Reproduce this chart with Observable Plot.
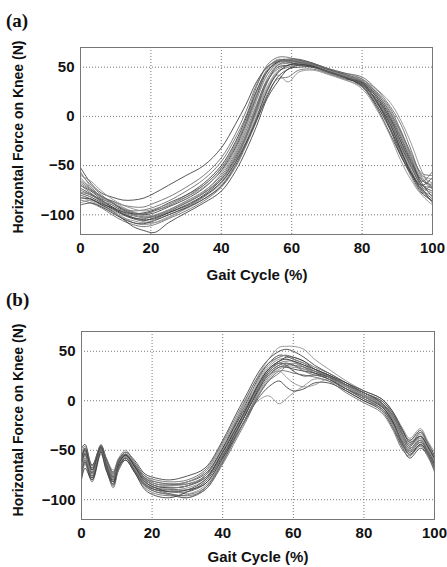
<!DOCTYPE html>
<html><head><meta charset="utf-8">
<script src="https://cdn.jsdelivr.net/npm/d3@7"></script>
<script src="https://cdn.jsdelivr.net/npm/@observablehq/plot@0.6"></script>
<style>
html,body{margin:0;padding:0;background:#fff;}
#wrap{position:relative;width:447px;height:567px;overflow:hidden;font-family:"Liberation Sans",Arial,sans-serif;color:#111;}
.panel{position:absolute;left:0;}
.tag{position:absolute;font-family:"Liberation Serif","Times New Roman",serif;font-weight:bold;font-size:19px;line-height:19px;}
.xl{position:absolute;font-weight:bold;font-size:15px;line-height:15px;transform:translateX(-50%);white-space:nowrap;}
.yl{position:absolute;font-weight:bold;font-size:14px;line-height:14px;white-space:nowrap;transform:translate(-50%,-50%) rotate(-90deg);}
</style>
</head><body>
<div id="wrap">
  <div class="tag" style="left:6px;top:11px;">(a)</div>
  <div class="tag" style="left:6px;top:290px;">(b)</div>
  <div class="yl" style="left:18px;top:137px;">Horizontal Force on Knee (N)</div>
  <div class="yl" style="left:18px;top:420px;">Horizontal Force on Knee (N)</div>
  <div class="xl" style="left:257px;top:267px;">Gait Cycle (%)</div>
  <div class="xl" style="left:258px;top:549px;">Gait Cycle (%)</div>
</div>
<script>
// Tick values
const xTicks = [0, 20, 40, 60, 80, 100];
const yTicks = [-100, -50, 0, 50];

// Panel (a): gait cycle positions (%)
const xsA = [0,3,6,9,12,15,18,21,25,30,35,40,44,47,50,53,56,59,62,66,70,75,80,84,88,91,94,97,100];
// Panel (a): force traces (N)
const A01 = [-52,-68,-78,-82,-85,-85,-83,-78,-70,-60,-50,-32,-8,12,35,50,57,58,56,52,46,40,30,10,-18,-40,-58,-70,-62];
const A02 = [-85,-88,-93,-100,-106,-110,-112,-110,-104,-96,-86,-72,-52,-30,-5,22,38,40,47,48,44,38,35,25,8,-15,-42,-72,-88];
const A03 = [-65,-72,-82,-86,-92,-97,-99,-96,-90,-80,-70,-52,-28,-5,25,48,58,56,55,52,47,42,34,15,-10,-32,-55,-75,-80];
const A04 = [-78,-82,-88,-94,-100,-104,-106,-103,-98,-90,-80,-64,-42,-20,8,35,50,52,54,51,47,41,36,22,0,-22,-46,-65,-70];
const A05 = [-58,-70,-80,-88,-94,-96,-95,-92,-86,-76,-64,-46,-22,0,30,52,60,60,57,53,48,42,36,20,-3,-26,-50,-66,-56];
const A06 = [-88,-85,-90,-95,-102,-108,-110,-108,-102,-94,-84,-70,-48,-25,0,25,42,35,45,47,43,37,30,12,-12,-38,-62,-80,-90];
const A07 = [-70,-76,-84,-88,-95,-99,-100,-98,-92,-84,-73,-55,-32,-8,20,45,55,55,52,50,45,39,32,18,-5,-30,-52,-70,-76];
const A08 = [-75,-80,-86,-92,-98,-101,-103,-102,-97,-88,-78,-62,-40,-18,10,38,52,54,56,54,49,44,40,28,10,-8,-35,-62,-72];
const A09 = [-62,-74,-83,-90,-97,-103,-107,-108,-103,-93,-82,-66,-44,-20,5,30,46,50,52,50,44,38,28,8,-20,-45,-65,-78,-66];
const A10 = [-80,-84,-90,-96,-104,-112,-116,-118,-108,-98,-88,-76,-56,-35,-10,18,35,48,50,50,46,40,34,20,-2,-25,-48,-68,-82];
const A11 = [-68,-75,-82,-86,-90,-92,-92,-88,-82,-72,-60,-42,-18,5,32,50,56,57,55,51,46,40,32,14,-8,-34,-56,-72,-78];
const A12 = [-82,-86,-91,-97,-103,-106,-108,-105,-100,-92,-82,-68,-46,-22,3,28,45,50,53,52,47,42,38,26,6,-14,-40,-60,-68];
const A13 = [-73,-79,-85,-92,-97,-99,-98,-95,-88,-80,-68,-50,-26,-2,26,46,55,58,58,54,48,43,35,16,-12,-36,-58,-74,-84];
const A14 = [-77,-80,-87,-93,-99,-103,-104,-101,-95,-86,-76,-60,-38,-15,12,36,48,52,55,53,48,41,35,22,2,-20,-44,-64,-74];
const A15 = [-60,-66,-76,-84,-90,-94,-96,-94,-89,-82,-72,-56,-34,-10,18,42,54,56,54,51,46,41,36,24,4,-18,-42,-60,-64];
const A16 = [-90,-88,-92,-98,-104,-108,-109,-106,-100,-93,-84,-71,-50,-28,-4,20,40,48,52,51,46,40,33,16,-8,-34,-58,-76,-86];
const A17 = [-70,-78,-86,-90,-96,-100,-102,-101,-96,-88,-78,-64,-44,-22,6,34,52,56,57,54,49,44,38,24,4,-16,-38,-58,-60];
const A18 = [-56,-72,-82,-88,-93,-98,-101,-100,-95,-87,-77,-58,-36,-12,16,42,54,58,56,52,47,42,37,28,14,-4,-28,-56,-74];
const A19 = [-83,-84,-89,-93,-99,-103,-105,-104,-98,-91,-81,-67,-47,-27,-2,26,44,52,53,51,46,40,31,12,-14,-40,-60,-78,-86];
const A20 = [-66,-74,-81,-87,-94,-98,-99,-96,-91,-82,-70,-53,-30,-6,22,46,56,57,55,52,46,40,33,17,-6,-28,-52,-70,-72];

// Panel (b): gait cycle positions (%)
const xsB = [0,1,3,5.5,7,9,10.5,12.5,15,18,21,25,30,35,40,44,47,50,53,56,58,60,63,66,70,75,80,85,88,91,93,96,98,100];
// Panel (b): force traces (N)
const B01 = [-48,-44,-65,-46,-58,-72,-60,-52,-60,-74,-78,-80,-76,-68,-40,-12,8,28,42,50,52,50,44,36,28,18,8,0,-12,-32,-40,-30,-42,-55];
const B02 = [-70,-60,-78,-50,-66,-85,-68,-58,-70,-86,-92,-95,-98,-90,-62,-35,-15,5,20,28,35,38,34,28,22,10,0,-8,-22,-45,-52,-45,-52,-66];
const B03 = [-65,-55,-74,-47,-63,-78,-63,-56,-68,-82,-88,-90,-88,-80,-55,-30,-12,0,5,-3,2,8,15,22,20,12,2,-6,-20,-40,-48,-40,-50,-64];
const B04 = [-58,-50,-70,-45,-60,-74,-60,-54,-64,-78,-84,-85,-82,-74,-48,-20,0,22,38,46,45,42,38,32,26,16,6,-2,-15,-35,-44,-36,-45,-60];
const B05 = [-75,-62,-80,-52,-68,-88,-70,-60,-72,-88,-94,-96,-95,-88,-60,-32,-10,10,28,36,38,36,32,28,22,12,2,-8,-24,-46,-55,-46,-56,-70];
const B06 = [-55,-48,-68,-44,-58,-70,-58,-50,-62,-76,-82,-84,-82,-72,-44,-18,4,25,42,54,55,55,52,42,32,20,10,2,-10,-28,-38,-28,-40,-52];
const B07 = [-62,-54,-72,-49,-62,-76,-63,-55,-66,-80,-86,-88,-86,-78,-52,-26,-6,14,30,38,36,30,25,26,22,12,4,-5,-20,-42,-50,-42,-50,-64];
const B08 = [-68,-58,-76,-50,-64,-80,-66,-57,-68,-84,-90,-92,-92,-84,-58,-30,-10,12,30,38,40,40,36,30,24,16,6,-4,-16,-36,-46,-36,-46,-60];
const B09 = [-60,-52,-70,-47,-61,-75,-61,-54,-65,-79,-84,-86,-84,-76,-50,-22,-2,18,34,42,42,40,34,30,25,15,5,-3,-16,-36,-42,-34,-46,-62];
const B10 = [-72,-62,-78,-51,-66,-82,-67,-58,-70,-85,-90,-90,-90,-84,-58,-34,-16,2,14,20,14,10,12,18,18,10,0,-10,-26,-48,-58,-48,-54,-68];
const B11 = [-52,-46,-66,-45,-58,-73,-59,-52,-62,-76,-80,-82,-80,-70,-42,-15,5,24,38,44,46,44,40,34,28,18,8,0,-12,-30,-40,-32,-44,-58];
const B12 = [-66,-56,-74,-49,-64,-79,-64,-56,-67,-82,-88,-90,-94,-86,-60,-36,-14,6,22,32,34,34,32,30,25,16,6,-2,-14,-34,-44,-38,-48,-62];
const B13 = [-64,-53,-73,-48,-63,-77,-62,-55,-66,-80,-86,-88,-86,-76,-48,-22,-4,16,32,40,44,44,40,32,26,16,8,-2,-18,-38,-48,-40,-50,-64];
const B14 = [-78,-64,-82,-54,-70,-86,-70,-60,-72,-86,-92,-94,-96,-90,-64,-38,-18,4,20,30,30,28,26,24,20,8,-2,-12,-28,-50,-56,-44,-54,-72];
const B15 = [-45,-50,-72,-50,-64,-80,-62,-54,-64,-80,-86,-86,-82,-72,-46,-18,2,20,36,44,46,42,38,32,26,16,6,-4,-18,-40,-50,-40,-48,-60];
const B16 = [-80,-68,-80,-52,-70,-84,-66,-60,-72,-90,-96,-98,-92,-82,-56,-30,-10,10,26,34,34,32,30,28,24,14,4,-6,-20,-44,-54,-44,-52,-66];
const B17 = [-62,-50,-68,-46,-60,-78,-62,-54,-64,-78,-82,-84,-84,-78,-54,-28,-8,12,28,36,38,36,30,26,24,16,8,-2,-14,-34,-46,-32,-42,-56];
const B18 = [-70,-58,-74,-48,-62,-76,-64,-56,-68,-84,-88,-88,-86,-76,-50,-24,-6,14,26,30,24,18,14,16,22,14,4,-4,-16,-38,-48,-38,-50,-66];
const B19 = [-58,-48,-70,-47,-64,-82,-64,-55,-66,-82,-88,-92,-90,-80,-52,-26,-6,16,32,40,42,40,36,32,26,18,10,2,-10,-30,-42,-36,-46,-58];
const B20 = [-74,-60,-76,-50,-66,-80,-66,-58,-70,-84,-90,-94,-98,-88,-62,-34,-14,8,24,34,36,36,34,30,24,12,2,-8,-22,-42,-52,-42,-52,-68];

const tracesA = [A01,A02,A03,A04,A05,A06,A07,A08,A09,A10,A11,A12,A13,A14,A15,A16,A17,A18,A19,A20];
const tracesB = [B01,B02,B03,B04,B05,B06,B07,B08,B09,B10,B11,B12,B13,B14,B15,B16,B17,B18,B19,B20];

const shades = ["#3a3a3a", "#666666", "#8a8a8a"];

function panel(xs, traces, m) {
  const data = traces.flatMap((t, i) => t.map((y, j) => ({x: xs[j], y, id: i, shade: shades[i % 3]})));
  return Plot.plot({
    width: 447, height: m.h,
    marginTop: m.t, marginBottom: m.b, marginLeft: m.l, marginRight: m.r,
    style: {fontFamily: "'Liberation Sans', Arial, sans-serif", fontSize: "15px", fontWeight: "bold", color: "#111", background: "white", overflow: "visible"},
    x: {domain: [0, 100], ticks: xTicks, tickSize: 0, tickPadding: 8, label: null},
    y: {domain: [-120, 70], ticks: yTicks, tickSize: 0, tickPadding: 6, label: null},
    marks: [
      Plot.gridX(xTicks.slice(1, -1), {stroke: "#777", strokeOpacity: 1, strokeDasharray: "1,2"}),
      Plot.gridY(yTicks, {stroke: "#777", strokeOpacity: 1, strokeDasharray: "1,2"}),
      Plot.line(data, {x: "x", y: "y", z: "id", stroke: "shade", strokeWidth: 0.9, strokeOpacity: 0.95, curve: "catmull-rom", clip: true}),
      Plot.frame({stroke: "#777", strokeWidth: 1})
    ]
  });
}

const wrap = document.getElementById("wrap");
const pa = panel(xsA, tracesA, {h: 284, t: 47, b: 50, l: 80, r: 15});
pa.classList.add("panel"); pa.style.top = "0px";
const pb = panel(xsB, tracesB, {h: 283, t: 47, b: 48, l: 81, r: 13});
pb.classList.add("panel"); pb.style.top = "284px";
wrap.insertBefore(pb, wrap.firstChild);
wrap.insertBefore(pa, wrap.firstChild);
</script>
</body></html>
